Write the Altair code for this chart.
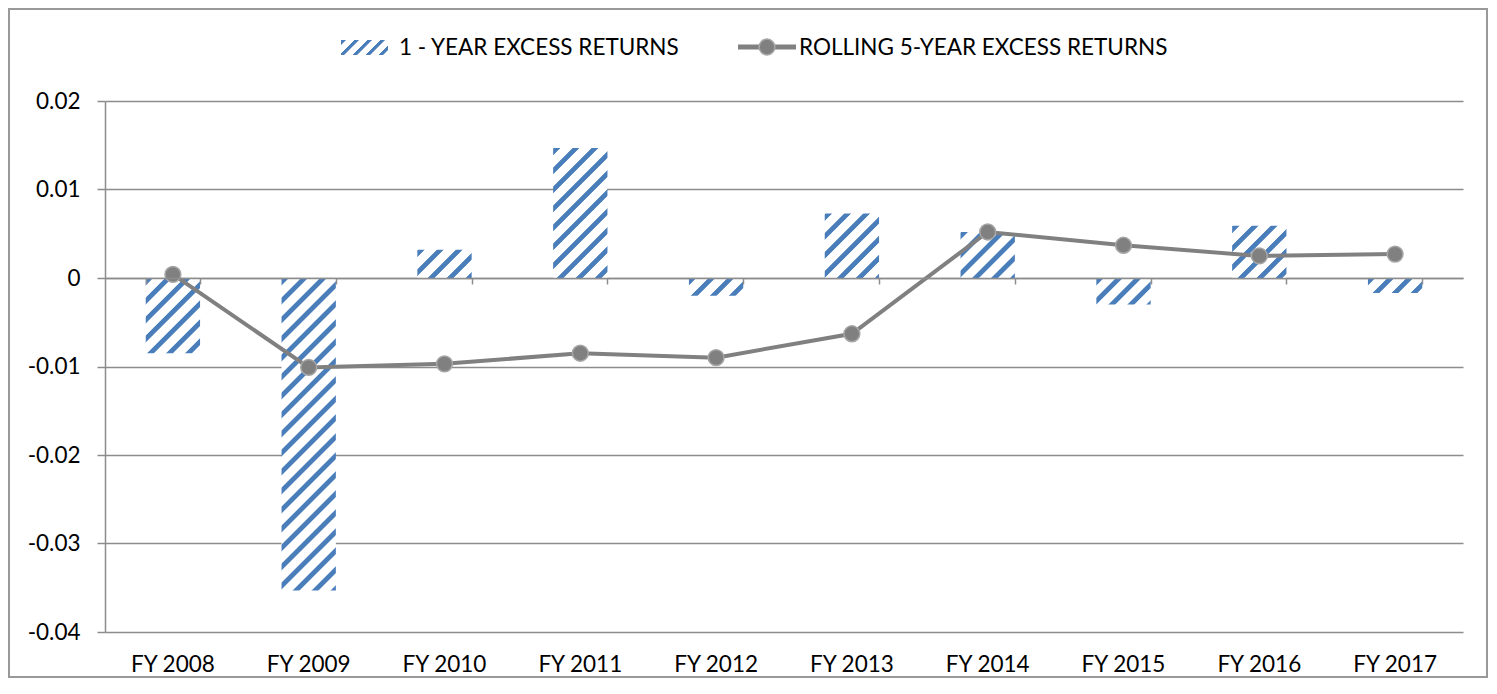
import altair as alt
import pandas as pd

# ---------------- data ----------------
years = ["FY 2008", "FY 2009", "FY 2010", "FY 2011", "FY 2012",
         "FY 2013", "FY 2014", "FY 2015", "FY 2016", "FY 2017"]
one_year = [-0.0085, -0.0353, 0.0032, 0.0147, -0.0020,
            0.0073, 0.0052, -0.0030, 0.0059, -0.0017]
rolling = [0.0004, -0.0101, -0.0097, -0.0085, -0.0090,
           -0.0063, 0.0052, 0.0037, 0.0025, 0.0027]
y_ticks = [-0.04, -0.03, -0.02, -0.01, 0, 0.01, 0.02]
legend_labels = ["1 - YEAR EXCESS RETURNS", "ROLLING 5-YEAR EXCESS RETURNS"]

# ---------------- style ----------------
W, H = 1358, 531
Y_DOMAIN = [-0.04, 0.02]
BLUE = "#4a7ebb"
GREY = "#808080"
AXIS_GREY = "#8c8c8c"
FONT = "Lato"
FS = 22.5
PAD_INNER = 0.6
BAR_W = W / len(years) * (1 - PAD_INNER)
PX_PER_UNIT = H / (Y_DOMAIN[1] - Y_DOMAIN[0])


def hatch(w, h, period):
    """Diagonal '/' stripe fill as a linear gradient in bounding-box units."""
    L = w + h
    d = w * w + h * h
    stops = []
    n = int(L / period) + 2
    profile = [(0.0, "#ffffff"), (0.06, BLUE), (0.36, BLUE), (0.42, "#ffffff")]
    for i in range(n):
        for ph, col in profile:
            off = (i + ph) * period / L
            if off <= 1:
                stops.append({"offset": round(off, 5), "color": col})
    return {"gradient": "linear", "x1": 0, "y1": 0,
            "x2": w * L / d, "y2": h * L / d, "stops": stops}


bars_df = pd.DataFrame({
    "year": years,
    "value": one_year,
    "grad": [hatch(BAR_W, abs(v) * PX_PER_UNIT, 19.0) for v in one_year],
})
line_df = pd.DataFrame({"year": years, "value": rolling})
one = pd.DataFrame({"k": [0]})

label_expr = ("datum.value == 0 ? '0' : (datum.value < 0 ? '-' : '') + "
              "format(abs(datum.value), '.2f')")

x_scale = alt.Scale(paddingInner=PAD_INNER, paddingOuter=PAD_INNER / 2)
y_scale = alt.Scale(domain=Y_DOMAIN, nice=False, zero=False)
y_axis = alt.Axis(values=y_ticks, labelExpr=label_expr, grid=True,
                  gridColor=AXIS_GREY, gridWidth=1.5, domainColor=AXIS_GREY,
                  domainWidth=1.5, tickColor=AXIS_GREY, tickWidth=1.5,
                  tickSize=8, labelPadding=17, labelFont=FONT,
                  labelFontSize=FS, labelColor="#000000", zindex=0)

bars = alt.Chart(bars_df).mark_bar().encode(
    x=alt.X("year:N", sort=years, scale=x_scale, title=None,
            axis=alt.Axis(orient="bottom", labelAngle=0, domain=False, ticks=False,
                          grid=False, labelFont=FONT, labelFontSize=FS,
                          labelColor="#000000", labelPadding=21)),
    y=alt.Y("value:Q", scale=y_scale, title=None, axis=y_axis),
    fill=alt.Fill("grad:N", scale=None, legend=None),
)

line = alt.Chart(line_df).mark_line(
    color=GREY, strokeWidth=4,
    point=alt.OverlayMarkDef(filled=True, fill=GREY, stroke="#a6a6a6",
                             strokeWidth=1.5, size=250, opacity=1),
).encode(
    x=alt.X("year:N", sort=years, title=None,
            axis=alt.Axis(orient="bottom", offset=-(0 - Y_DOMAIN[0]) * PX_PER_UNIT,
                          labels=False, domain=True, domainColor=AXIS_GREY,
                          domainWidth=1.5, ticks=True, tickBand="extent",
                          tickColor=AXIS_GREY, tickWidth=1.5, tickSize=6,
                          grid=False, zindex=1)),
    y=alt.Y("value:Q", scale=y_scale, title=None, axis=y_axis),
)

# ---- legend (drawn in the area above the plot) ----
leg_rect = alt.Chart(one).mark_rect(fill=hatch(47, 15, 13.0)).encode(
    x=alt.value(236), x2=alt.value(283), y=alt.value(-61), y2=alt.value(-46))
leg_text1 = alt.Chart(one).transform_calculate(t=f"'{legend_labels[0]}'").mark_text(
    align="left", baseline="middle", font=FONT, fontSize=FS, color="#000000"
).encode(x=alt.value(294), y=alt.value(-53), text="t:N")
leg_line = alt.Chart(one).mark_rule(color=GREY, strokeWidth=5).encode(
    x=alt.value(633), x2=alt.value(691), y=alt.value(-54))
leg_pt = alt.Chart(one).mark_point(filled=True, fill=GREY, stroke="#a6a6a6",
                                   strokeWidth=1.5, size=250, opacity=1).encode(
    x=alt.value(662), y=alt.value(-54))
leg_text2 = alt.Chart(one).transform_calculate(t=f"'{legend_labels[1]}'").mark_text(
    align="left", baseline="middle", font=FONT, fontSize=FS, color="#000000"
).encode(x=alt.value(694), y=alt.value(-53), text="t:N")

frame = alt.Chart(one).mark_rect(fill="transparent", stroke="#999999", strokeWidth=2).encode(
    x=alt.value(-96), x2=alt.value(1382), y=alt.value(-92), y2=alt.value(576))

chart = alt.layer(
    frame, bars, line, leg_rect, leg_text1, leg_line, leg_pt, leg_text2
).resolve_axis(x="independent").properties(
    width=W, height=H, padding=0, background="#ffffff"
).configure_view(stroke=None)

chart.save("out.html", embed_options={"renderer": "svg", "actions": False})
